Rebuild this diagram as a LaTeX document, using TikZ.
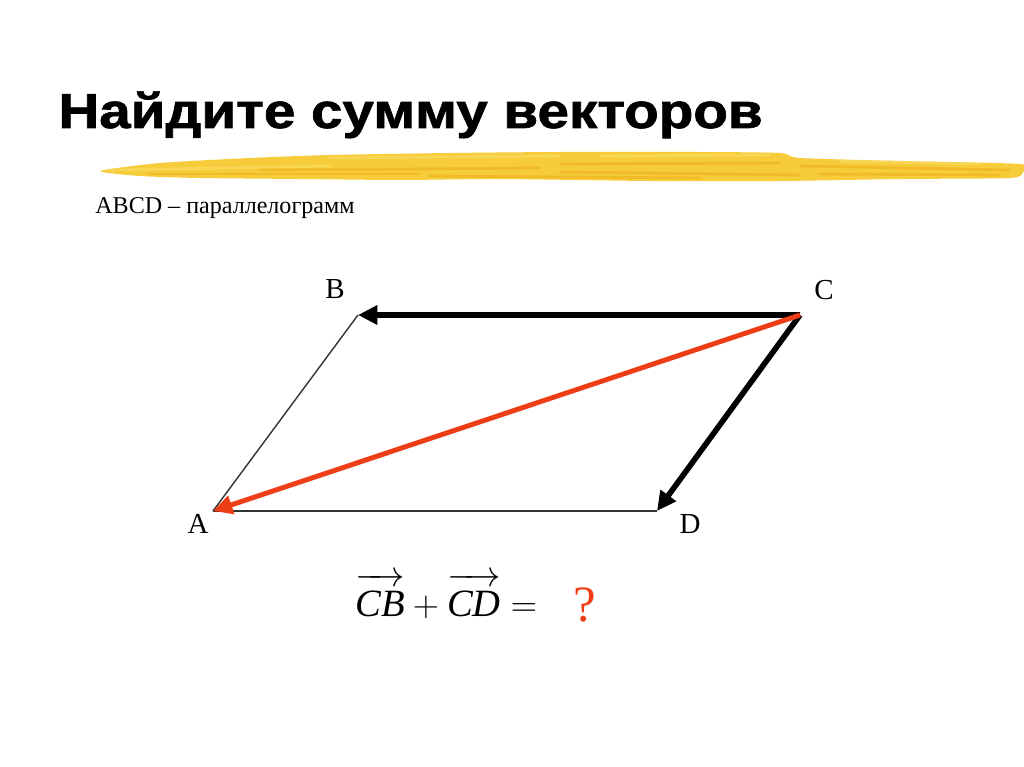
\documentclass[tikz,border=0pt]{standalone}
\usepackage{fontspec}
\setmainfont{Liberation Serif}
\newfontfamily\titlefont[FakeBold=1.3]{Liberation Sans Bold}
\usetikzlibrary{positioning,arrows.meta}
\definecolor{vecred}{RGB}{238,62,24}
\definecolor{brushyellow}{RGB}{246,204,58}
\definecolor{brushdark}{RGB}{236,172,20}
\definecolor{brushlight}{RGB}{250,224,110}

\begin{document}
\begin{tikzpicture}
            [x=0.02cm,y=-0.02cm,
             lbl/.style={inner sep=0pt, font=\fontsize{16.5}{18}\selectfont},
             side/.style={line width=0.8pt, black!80},
             vec/.style={line width=3.2pt, -{Triangle[length=11pt,width=10.5pt]}},
             redvec/.style={vec, line width=2.8pt, color=vecred},
             streak/.style={line width=1.6pt, line cap=round}]

            \useasboundingbox (0,0) rectangle (1024,767);

            \fill[brushyellow] plot[smooth cycle, tension=0.4] coordinates
              {(100,171) (160,163) (250,158) (330,155) (450,153) (560,152) (700,152) (780,153)
               (800,158) (900,161) (1020,164) (1023,172) (1010,178) (900,179) (780,181) (650,181)
               (500,179) (400,180) (300,179) (200,178) (140,176)};
            \foreach \xa/\ya/\xb/\yb/\col in
              {110/170/330/166/brushlight, 150/174/420/174/brushdark, 330/158/560/156/brushlight,
               260/170/540/168/brushdark, 560/164/780/163/brushdark, 560/172/800/175/brushdark,
               600/156/770/155/brushlight, 800/166/1010/170/brushdark, 820/174/1000/175/brushdark,
               840/161/980/164/brushlight, 430/176/700/178/brushdark}
              \draw[streak, \col, opacity=0.5] (\xa,\ya) -- (\xb,\yb);

            \node[anchor=base west, inner sep=0pt, xscale=1.15,
                  font=\titlefont\fontsize{28}{30}\selectfont] (title) at (58,128)
              {Найдите сумму векторов};
            \node[anchor=base west, inner sep=0pt, font=\fontsize{13.7}{16}\selectfont] (sub) at (95,213)
              {ABCD -- параллелограмм};

            \coordinate (a) at (213,511);
            \coordinate (b) at (358,315);
            \coordinate (c) at (800,315);
            \coordinate (d) at (657,511);

            \node[lbl, anchor=base] (la) at (198,533) {A};
            \node[lbl, anchor=base] (lb) at (335,298) {B};
            \node[lbl, anchor=base] (lc) at (824,299) {C};
            \node[lbl, anchor=base] (ld) at (690,533) {D};

            \draw[side] (a) -- (b);
            \draw[side] (a) -- (d);
            \draw[vec] (c) -- (b);
            \draw[vec] (c) -- (d);
            \draw[redvec] (c) -- (a);

            \node[anchor=base west, inner sep=0pt, font=\fontsize{22}{26}\selectfont] (sum) at (355,616)
              {$\overrightarrow{\rule{0pt}{0.8em}\textit{CB}}+\overrightarrow{\rule{0pt}{0.8em}\textit{CD}}=$};
            \node[anchor=base west, inner sep=0pt, text=vecred, font=\fontsize{29}{32}\selectfont] (ask) at (573,621)
              {?};
        \end{tikzpicture}
\end{document}
